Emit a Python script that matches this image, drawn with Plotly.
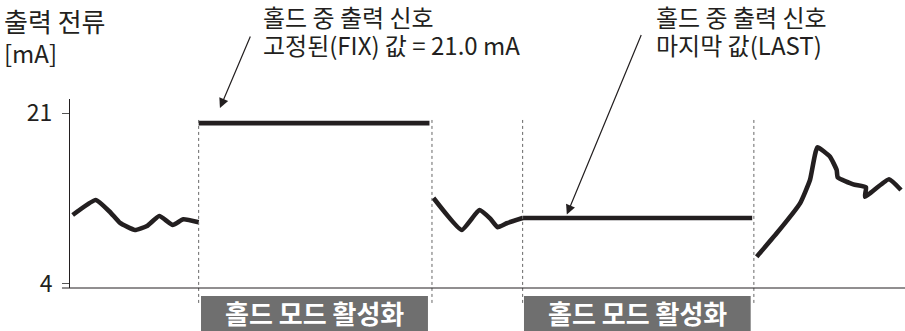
import plotly.graph_objects as go

# ---- data (time units 0..100, current in mA) ----
seg1_t = [0.32, 3.08, 4.79, 5.99, 7.78, 9.22, 10.69, 12.30, 13.57, 15.41]
seg1_y = [10.86, 12.35, 11.16, 10.07, 9.37, 9.77, 10.76, 9.87, 10.43, 10.14]

fix_t = [15.41, 43.05]
fix_value = 20.0

seg3_t = [43.53, 46.91, 49.02, 50.30, 51.22, 52.30, 54.21]
seg3_y = [12.55, 9.37, 11.36, 10.53, 9.64, 10.04, 10.56]

last_t = [54.21, 81.70]
last_value = 10.56

seg5_t = [82.24, 84.63, 87.43, 88.62, 89.50, 91.02, 91.82, 91.94, 93.81, 95.33, 95.21, 98.08, 99.52]
seg5_y = [6.72, 9.04, 12.02, 14.34, 17.59, 16.66, 15.33, 14.61, 13.91, 13.61, 12.68, 14.41, 13.35]

hold_start = [15.41, 54.21]
hold_end = [43.35, 81.90]
hold_box = [(15.69, 42.87), (54.37, 81.52)]
hold_label = "홀드 모드 활성화"

y_ticks = [4, 21]
y_title = ["출력 전류", "[mA]"]
fix_text = ["홀드 중 출력 신호", "고정된(FIX) 값 = 21.0 mA"]
last_text = ["홀드 중 출력 신호", "마지막 값(LAST)"]

FONT = "Noto Sans CJK KR, Noto Sans, sans-serif"
INK = "#231f20"
LW = 4.6
TS = 24

fig = go.Figure()
for tt, yy in [(seg1_t, seg1_y), (fix_t, [fix_value] * 2), (seg3_t, seg3_y),
               (last_t, [last_value] * 2), (seg5_t, seg5_y)]:
    fig.add_trace(go.Scatter(x=tt, y=yy, mode="lines",
                             line=dict(color=INK, width=LW, shape="spline", smoothing=0.4),
                             hoverinfo="skip", showlegend=False))

shapes = []
for xs, xe in zip(hold_start, hold_end):
    for xv in (xs, xe):
        shapes.append(dict(type="line", xref="x", yref="paper", x0=xv, x1=xv,
                           y0=-0.079, y1=0.889,
                           line=dict(color="#666666", width=1, dash="dot")))
for (b0, b1) in hold_box:
    shapes.append(dict(type="rect", xref="x", yref="paper", x0=b0, x1=b1,
                       y0=-0.2275, y1=-0.0423, fillcolor="#6f6f6f", line=dict(width=0),
                       layer="above"))
# x-axis baseline extended left of y axis
shapes.append(dict(type="line", xref="paper", yref="paper", x0=-0.0096, x1=1.0,
                   y0=0, y1=0, line=dict(color=INK, width=1)))


def py(pix):
    return (288 - pix) / 189.0


ann = []
ann.append(dict(xref="paper", yref="paper", x=-0.0802, y=py(20), text=y_title[0],
                showarrow=False, xanchor="left", yanchor="middle", borderpad=0,
                font=dict(family=FONT, size=26, color=INK)))
ann.append(dict(xref="paper", yref="paper", x=-0.0802, y=py(52), text=y_title[1],
                showarrow=False, xanchor="left", yanchor="middle", borderpad=0,
                font=dict(family=FONT, size=TS, color=INK)))
for xp, lines in [(0.230, fix_text), (0.7006, last_text)]:
    for i, line in enumerate(lines):
        ann.append(dict(xref="paper", yref="paper", x=xp, y=py([17, 44][i]), text=line,
                        showarrow=False, xanchor="left", yanchor="middle", borderpad=0,
                        font=dict(family=FONT, size=TS, color=INK)))
# arrows
ann.append(dict(x=17.96, y=21.5, xref="x", yref="y", ax=31, ay=-73, text="",
                showarrow=True, arrowhead=2, arrowsize=1.6, arrowwidth=1.2, arrowcolor=INK))
ann.append(dict(x=59.5, y=last_value + 0.35, xref="x", yref="y", ax=75, ay=-181, text="",
                showarrow=True, arrowhead=2, arrowsize=1.6, arrowwidth=1.2, arrowcolor=INK))
for (b0, b1) in hold_box:
    ann.append(dict(xref="x", yref="paper", x=(b0 + b1) / 2, y=-0.13, text="<b>" + hold_label + "</b>",
                    showarrow=False, xanchor="center", yanchor="middle", borderpad=0,
                    font=dict(family=FONT, size=26, color="white")))

fig.update_layout(
    width=905, height=331,
    margin=dict(l=70, r=0, t=99, b=43),
    paper_bgcolor="white", plot_bgcolor="white",
    shapes=shapes, annotations=ann,
    xaxis=dict(range=[0, 100], showgrid=False, zeroline=False, showticklabels=False,
               ticks="", showline=False, fixedrange=True, automargin=False),
    yaxis=dict(range=[3.6, 22.4], showgrid=False, zeroline=False, tickvals=y_ticks,
               ticks="outside", ticklen=7, tickcolor="#555555", tickwidth=1,
               ticklabelstandoff=5, automargin=False,
               showline=True, linecolor=INK, linewidth=1,
               tickfont=dict(family=FONT, size=23, color=INK), fixedrange=True),
)
fig.write_html("out.html", config={"displayModeBar": False},
               post_script="document.body.style.margin='0';document.body.style.padding='0';")
